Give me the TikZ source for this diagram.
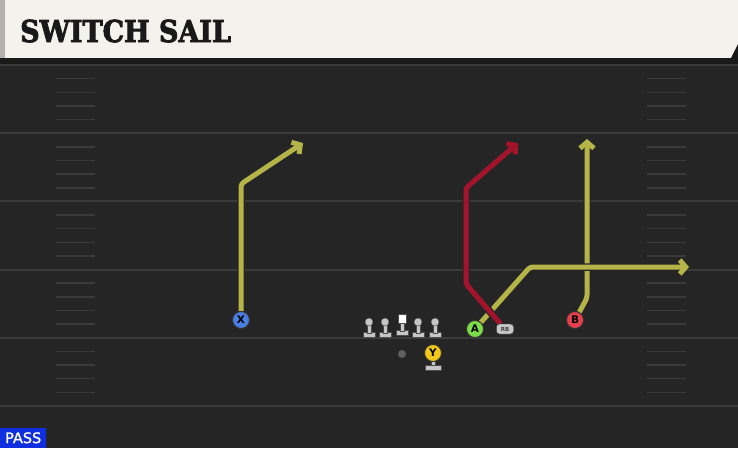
\documentclass[tikz,border=0pt]{standalone}
\usepackage{fontspec}
\setmainfont{DejaVu Sans}
\newfontfamily\titlefont[BoldFeatures={FakeBold=3}]{DejaVu Serif}
\newfontfamily\passfont[FakeBold=1.5]{DejaVu Sans}
\usetikzlibrary{arrows.meta}
\pgfdeclarelayer{ground}
\pgfdeclarelayer{routes}
\pgfsetlayers{ground,routes,main}
\definecolor{field}{HTML}{252525}
\definecolor{header}{HTML}{F4F2EC}
\definecolor{yardgray}{HTML}{3A3A3A}
\definecolor{routeyel}{HTML}{B4B448}
\definecolor{routered}{HTML}{A3132B}
\definecolor{xblue}{HTML}{4A7EE0}
\definecolor{agreen}{HTML}{7DDC4A}
\definecolor{bred}{HTML}{E5404C}
\definecolor{yyel}{HTML}{F2C81A}
\definecolor{linegray}{HTML}{C6C6C6}
\definecolor{passblue}{HTML}{1030E0}
\begin{document}
\begin{tikzpicture}[x=1pt,y=-1pt,
	yardline/.style={yardgray,line width=2pt},
	hash/.style={yardgray,line width=1.5pt},
	route/.style={line width=5pt,line join=round,rounded corners=3pt,
		preaction={draw=black!85,line width=7.5pt},
		-{Straight Barb[length=6pt,width=14pt]}},
	player/.style={circle,draw=black!80,line width=0.9pt,inner sep=0pt,minimum size=17pt,
		font=\bfseries\fontsize{10.5}{10.5}\selectfont},
	back/.style={fill=linegray,draw=black!75,rounded corners=3pt,inner sep=0pt,minimum width=17pt,
		minimum height=10pt,font=\bfseries\fontsize{5.5}{5.5}\selectfont,text=black!75},
	lineman/.style={fill=linegray,draw=black!70,line width=0.4pt}]
	\useasboundingbox (0,0) rectangle (738,448);
	\begin{pgfonlayer}{ground}
	\fill[field] (0,0) rectangle (738,448);
	\foreach \k in {0,...,4} {
		\pgfmathsetmacro{\yy}{65+68.2*\k}
		\draw[yardline] (0,\yy) -- (738,\yy);
		\foreach \h in {1,...,4} {
			\pgfmathsetmacro{\hy}{\yy+13.64*\h}
			\draw[hash] (56,\hy) -- (95,\hy);
			\draw[hash] (647,\hy) -- (686,\hy);
		}
	}
	\draw[yardline] (0,406) -- (738,406);
	\fill[black!90] (0,57) rectangle (738,64);
	\fill[header] (0,0) rectangle (738,58);
	\fill[black!90] (738,44) -- (738,58) -- (731,58) -- cycle;
	\fill[gray!60] (0,0) rectangle (5,58);
	\end{pgfonlayer}
	\node[anchor=base west,font=\titlefont\bfseries\fontsize{29}{29}\selectfont,text=black!90,inner sep=0pt]
		(title) at (20,42) {\scalebox{0.93}[1.04]{SWITCH SAIL}};
	\node[player,fill=xblue] (X) at (241,320) {X};
	\node[player,fill=agreen] (A) at (475,329) {A};
	\node[player,fill=bred] (B) at (575,320) {B};
	\node[back] (RB) at (505,329) {RB};
	\node[circle,fill=gray!75!black,inner sep=0pt,minimum size=8pt] (QB) at (402,354) {};
	\coordinate (x1) at (241,184);
	\coordinate (x2) at (303,143);
	\coordinate (r1) at (466,284);
	\coordinate (r2) at (466,188);
	\coordinate (r3) at (518,143);
	\coordinate (a1) at (530,267);
	\coordinate (a2) at (689,267);
	\coordinate (b1) at (587,298);
	\coordinate (b2) at (587,139);
	\begin{pgfonlayer}{routes}
	\draw[route,routeyel] (X) -- (x1) -- (x2);
	\draw[route,routeyel] (B) -- (b1) -- (b2);
	\draw[route,routeyel] (A) -- (a1) -- (a2);
	\draw[route,routered] (RB) -- (r1) -- (r2) -- (r3);
	\end{pgfonlayer}
	\foreach \x in {369,385,418,435} {
		\draw[lineman] (\x-6,332) rectangle (\x+6,337);
		\draw[lineman] (\x-2,322) rectangle (\x+2,333);
		\draw[lineman] (\x,322) circle (4);
	}
	\draw[lineman] (396,330) rectangle (408,335);
	\draw[lineman] (400,322) rectangle (404,331);
	\draw[fill=white,draw=black!70,line width=0.4pt] (398,314) rectangle (406,323);
	\draw[lineman] (431,361) rectangle (435,366);
	\draw[lineman] (425,365) rectangle (441,370);
	\node[player,fill=yyel] (Y) at (433,353) {Y};
	\node[fill=passblue,text=white,anchor=south west,inner sep=0pt,minimum width=46pt,minimum height=20pt,
		font=\passfont\fontsize{14.5}{14.5}\selectfont] (pass) at (0,448) {PASS};
\end{tikzpicture}
\end{document}
